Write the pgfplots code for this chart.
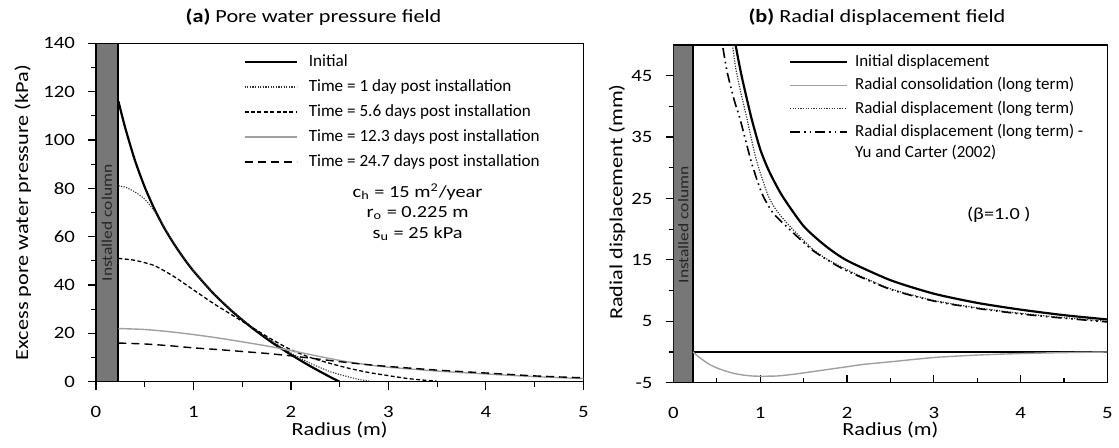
\documentclass[border=0pt]{standalone}
\usepackage{fontspec}
\setmainfont{Carlito}[FakeStretch=1.2]
\newfontfamily\legfont{Carlito}
\usepackage{pgfplots}
\pgfplotsset{compat=1.18}
\definecolor{colgray}{HTML}{777777}
\definecolor{lgray}{HTML}{A0A0A0}
\begin{document}
\begin{tikzpicture}
\useasboundingbox (0bp,0bp) rectangle (559.5bp,224bp);
\pgfplotsset{
  every axis/.append style={
    scale only axis,
    /pgf/number format/assume math mode=true,
    tick label style={font=\fontsize{8.7}{10}\selectfont},
    label style={font=\fontsize{9.3}{11}\selectfont},
    axis line style={line width=0.6bp},
    every tick/.style={black, line width=0.6bp},
    major tick length=4bp, minor tick length=2.5bp,
    xmin=0, xmax=5, xtick={0,1,2,3,4,5}, minor x tick num=1,
    tick pos=left,
    legend cell align=left,
    legend image code/.code={\draw[##1] (0bp,0bp) -- (26bp,0bp);},
  },
}
% ---------------- (a) ----------------
\begin{axis}[at={(48bp,33.15bp)}, anchor=south west,
  width=243.65bp, height=169.2bp,
  ymin=0, ymax=140, ytick={0,20,...,140}, minor y tick num=1,
  tick align=outside,
  xlabel={Radius (m)}, ylabel={Excess pore water pressure (kPa)},
  xlabel style={at={(axis description cs:0.5,-0.143)}, anchor=center},
  ylabel style={at={(axis description cs:-0.150,0.5)}, anchor=center},
  xticklabel style={yshift=-5bp},
  yticklabel style={xshift=-3bp},
  legend style={at={(0.302,0.971)}, anchor=north west, draw=none, fill=none,
    inner sep=0pt, font=\legfont\fontsize{8.6}{10}\selectfont, row sep=4bp, column sep=5.5bp,
    nodes={inner ysep=0pt, inner xsep=0pt, text height=6.5bp, text depth=2bp}},
]
\addplot[draw=black, fill=colgray, line width=0.6bp, forget plot] coordinates {(0,0)(0,140)(0.225,140)(0.225,0)(0,0)};
\addplot[black, line width=1.1bp, smooth, tension=0.4] coordinates {(0.23,116)(0.3,105)(0.4,91.5)(0.5,80.5)(0.6,71.4)(0.7,63.6)(0.8,57)(0.9,51.1)(1.0,45.8)(1.2,36.7)(1.4,29)(1.6,22.3)(1.8,16.4)(2.0,11.2)(2.2,6.4)(2.4,2)(2.5,0)};
\addlegendentry{Initial}
\addplot[black!80, line width=0.55bp, dash pattern=on 0.6bp off 0.7bp, smooth, tension=0.4] coordinates {(0.23,81)(0.3,80.5)(0.4,78.5)(0.5,75.5)(0.6,70.5)(0.7,64)(0.8,57.3)(0.9,51.3)(1.0,45.8)(1.2,36.8)(1.4,29.2)(1.6,22.6)(1.8,16.9)(2.0,11.9)(2.2,7.6)(2.4,4.2)(2.5,3)(2.6,1.9)(2.7,0.9)(2.8,0.3)};
\addlegendentry{Time = 1 day post installation}
\addplot[black, line width=0.65bp, dash pattern=on 2bp off 1.2bp, smooth, tension=0.4] coordinates {(0.23,51)(0.4,50.2)(0.6,48)(0.8,43.5)(1.0,38)(1.2,32.5)(1.4,27.5)(1.6,22.5)(1.8,17.6)(2.0,13.2)(2.2,10)(2.4,7.6)(2.6,5.5)(2.8,3.8)(3.0,2.5)(3.2,1.3)(3.4,0.5)(3.5,0.2)};
\addlegendentry{Time = 5.6 days post installation}
\addplot[lgray, line width=0.7bp, smooth, tension=0.4] coordinates {(0.23,22)(0.5,21.6)(0.75,20.7)(1.0,19.5)(1.25,18.1)(1.5,16.5)(1.75,14.8)(2.0,12.9)(2.25,10.8)(2.5,8.8)(2.75,7.2)(3.0,6)(3.5,4.4)(4.0,3.2)(4.5,2.1)(5.0,1.3)};
\addlegendentry{Time = 12.3 days post installation}
\addplot[black, line width=0.7bp, dash pattern=on 4bp off 2.5bp, smooth, tension=0.4] coordinates {(0.23,16)(0.5,15.6)(0.75,14.9)(1.0,14)(1.25,13.3)(1.5,12.5)(1.75,11.7)(2.0,10.7)(2.25,9.5)(2.5,8.3)(2.75,7.2)(3.0,6.3)(3.5,4.8)(4.0,3.6)(4.5,2.4)(5.0,1.6)};
\addlegendentry{Time = 24.7 days post installation}
\node[rotate=90, font=\fontsize{7.3}{8}\selectfont, text=black!85] at (axis cs:0.1125,65.7) {Installed column};
\node[font=\fontsize{8.5}{10}\selectfont] at (axis cs:3.30,78.6) {c\textsubscript{h} = 15 m\textsuperscript{2}/year};
\node[font=\fontsize{8.5}{10}\selectfont] at (axis cs:3.30,69.7) {r\textsubscript{o} = 0.225 m};
\node[font=\fontsize{8.5}{10}\selectfont] at (axis cs:3.30,61.4) {s\textsubscript{u} = 25 kPa};
\end{axis}
\node[font=\fontsize{9.3}{11}\selectfont] at (156.75bp,215.5bp) {\textbf{(a)} Pore water pressure field};
% ---------------- (b) ----------------
\begin{axis}[at={(336.75bp,32.65bp)}, anchor=south west,
  width=216.9bp, height=168.85bp,
  ymin=-5, ymax=50, ytick={-5,5,15,25,35,45}, minor ytick={0,10,20,30,40},
  xtick align=inside, ytick align=outside,
  xlabel={Radius (m)}, ylabel={Radial displacement (mm)},
  xlabel style={at={(axis description cs:0.5,-0.14)}, anchor=center},
  ylabel style={at={(axis description cs:-0.130,0.535)}, anchor=center},
  xticklabel style={yshift=-9bp},
  yticklabel style={xshift=-3bp},
  legend style={at={(0.265,0.976)}, anchor=north west, draw=none, fill=none,
    inner sep=0pt, font=\legfont\fontsize{8.5}{10.2}\selectfont, row sep=3.2bp, column sep=3.5bp,
    nodes={inner ysep=0pt, inner xsep=0pt, text height=6.5bp, text depth=2bp}},
  legend image code/.code={\draw[#1] (0bp,0bp) -- (28.5bp,0bp);},
]
\addplot[draw=black, fill=colgray, line width=0.6bp, forget plot] coordinates {(0,-5)(0,50)(0.225,50)(0.225,-5)(0,-5)};
\addplot[black, line width=0.6bp, forget plot] coordinates {(0.225,0)(5,0)};
\addplot[black, line width=1.1bp, smooth, tension=0.4] coordinates {(0.716,50)(0.75,47.4)(0.8,44)(0.9,38)(1.0,33)(1.1,29.5)(1.25,25.5)(1.5,20.5)(1.75,17.3)(2.0,14.9)(2.5,11.7)(3.0,9.5)(3.5,8.0)(4.0,6.9)(4.5,6.0)(5.0,5.3)};
\addlegendentry{Initial displacement}
\addplot[lgray, line width=0.7bp, smooth, tension=0.4] coordinates {(0.225,0)(0.3,-0.9)(0.4,-1.9)(0.5,-2.6)(0.6,-3.1)(0.7,-3.5)(0.8,-3.75)(0.9,-3.9)(1.0,-3.95)(1.2,-3.9)(1.4,-3.6)(1.6,-3.2)(1.8,-2.8)(2.0,-2.4)(2.2,-2.0)(2.5,-1.6)(3.0,-0.9)(3.5,-0.5)(4.0,-0.25)(4.5,-0.1)(5.0,0)};
\addlegendentry{Radial consolidation (long term)}
\addplot[black!80, line width=0.6bp, dash pattern=on 0.6bp off 0.7bp, smooth, tension=0.4] coordinates {(0.68,50)(0.72,46)(0.78,42)(0.85,37.8)(0.95,31.5)(1.09,25.5)(1.2,22.8)(1.38,19.9)(1.6,16.8)(1.76,15.2)(2.0,13.4)(2.15,12.4)(2.5,10.3)(3.0,8.4)(3.5,7.2)(4.0,6.3)(4.5,5.6)(5.0,5.0)};
\addlegendentry{Radial displacement (long term)}
\addplot[black, line width=0.8bp, dash pattern=on 5bp off 2bp on 0.8bp off 2bp on 0.8bp off 2bp, smooth, tension=0.4] coordinates {(0.57,49.5)(0.62,45.5)(0.7,41)(0.77,37.8)(0.9,30.8)(1.02,25.8)(1.15,22.6)(1.38,19.4)(1.6,16.6)(1.76,15.1)(2.0,13.2)(2.5,10.2)(3.0,8.3)(3.5,7.1)(4.0,6.2)(4.5,5.5)(5.0,4.9)};
\addlegendentry{\begin{tabular}[t]{@{}l@{}}Radial displacement (long term) -\\Yu and Carter (2002)\end{tabular}}
\node[rotate=90, font=\fontsize{7.3}{8}\selectfont, text=black!85] at (axis cs:0.1125,20.7) {Installed column};
\node[font=\fontsize{8.5}{10}\selectfont] at (axis cs:3.75,22.3) {(β=1.0 )};
\end{axis}
\node[font=\fontsize{9.3}{11}\selectfont] at (438.5bp,215.5bp) {\textbf{(b)} Radial displacement field};
\end{tikzpicture}
\end{document}
